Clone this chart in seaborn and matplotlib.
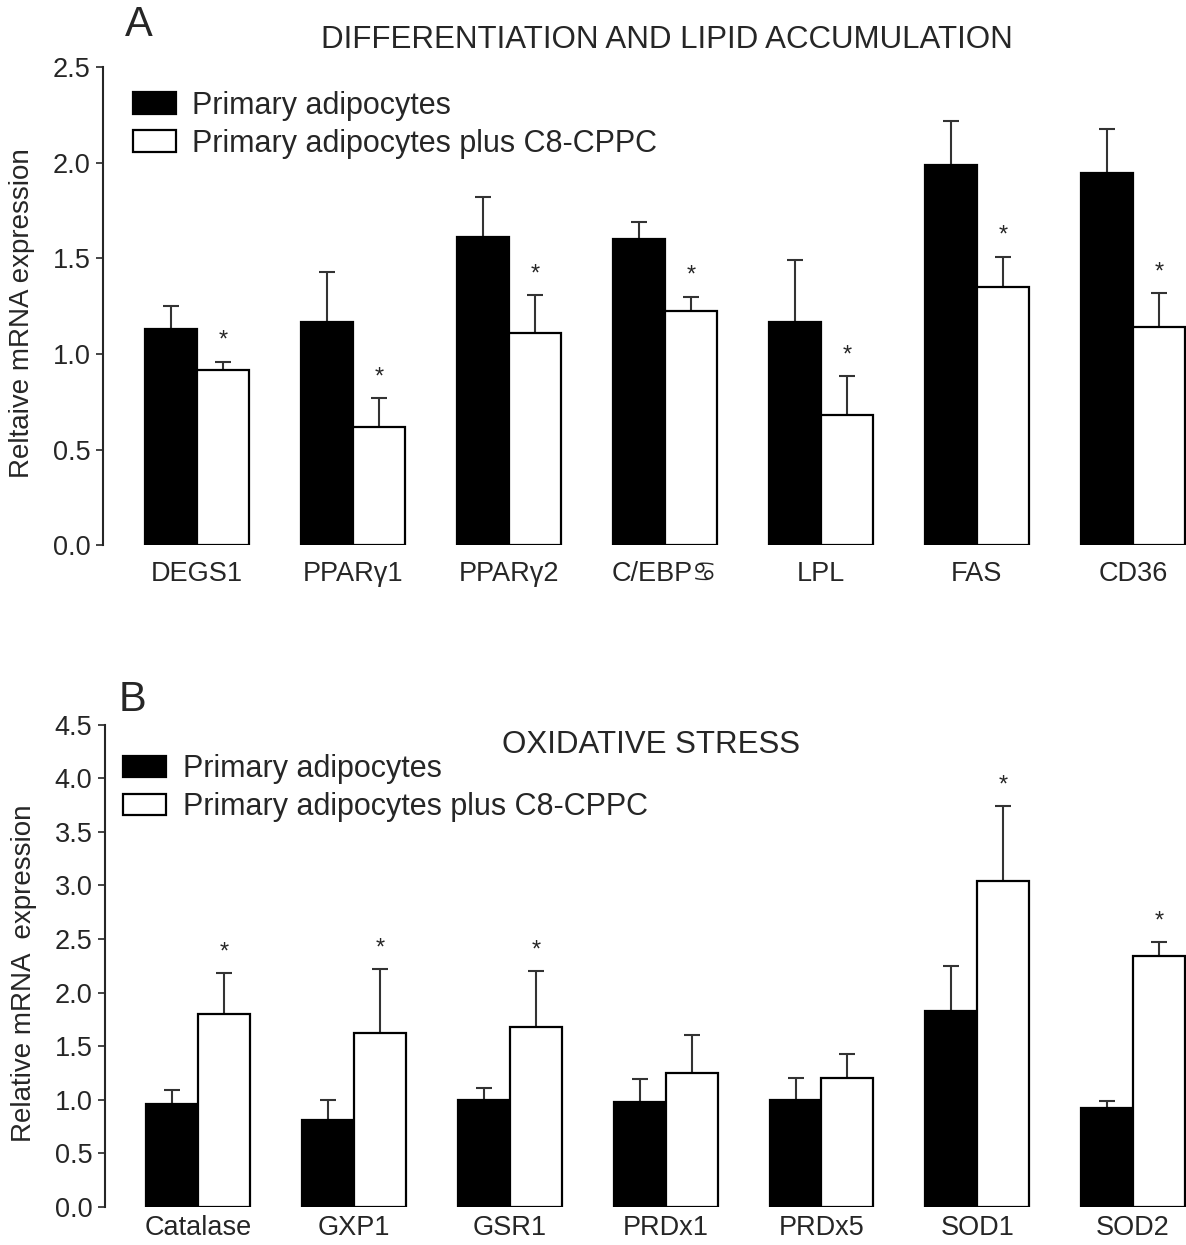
import seaborn as sns
import matplotlib.pyplot as plt
import pandas as pd
import numpy as np

sns.set_style("ticks")
plt.rcParams['font.family'] = ['Liberation Sans', 'DejaVu Sans']

groups = ["Primary adipocytes", "Primary adipocytes plus C8-CPPC"]

# panel A - differentiation and lipid accumulation
genes_a = ["DEGS1", "PPARγ1", "PPARγ2", "C/EBP♋", "LPL", "FAS", "CD36"]
ctrl_a = [1.13, 1.17, 1.61, 1.60, 1.17, 1.99, 1.945]
ctrl_a_sem = [0.12, 0.26, 0.21, 0.09, 0.32, 0.23, 0.23]
c8_a = [0.915, 0.62, 1.11, 1.224, 0.68, 1.35, 1.14]
c8_a_sem = [0.045, 0.15, 0.20, 0.076, 0.205, 0.16, 0.18]
star_a = [True, True, True, True, True, True, True]

# panel B - oxidative stress
genes_b = ["Catalase", "GXP1", "GSR1", "PRDx1", "PRDx5", "SOD1", "SOD2"]
ctrl_b = [0.96, 0.81, 1.00, 0.98, 1.00, 1.83, 0.92]
ctrl_b_sem = [0.13, 0.19, 0.11, 0.21, 0.20, 0.42, 0.07]
c8_b = [1.80, 1.62, 1.68, 1.25, 1.20, 3.04, 2.34]
c8_b_sem = [0.38, 0.60, 0.52, 0.35, 0.23, 0.70, 0.13]
star_b = [True, True, True, False, False, True, True]


def panel(ax, genes, ctrl, ctrl_sem, c8, c8_sem, stars, ymax, ylabel, xpad):
    df = pd.DataFrame({
        "gene": genes * 2,
        "group": [groups[0]] * len(genes) + [groups[1]] * len(genes),
        "value": ctrl + c8,
    })
    sns.barplot(data=df, x="gene", y="value", hue="group",
                palette={groups[0]: "black", groups[1]: "white"},
                edgecolor="black", linewidth=1.6, width=0.667,
                errorbar=None, legend=False, ax=ax, zorder=3)
    bars = list(ax.containers)
    sems = [ctrl_sem, c8_sem]
    for k, cont in enumerate(bars):
        xs = np.array([p.get_x() + p.get_width() / 2 for p in cont.patches])
        hs = np.array([p.get_height() for p in cont.patches])
        up = np.array(sems[k])
        _, caps, _ = ax.errorbar(xs, hs, yerr=[np.zeros_like(up), up], fmt="none",
                                 ecolor="#333333", elinewidth=1.5, capsize=6,
                                 capthick=1.5, zorder=2)
        for cl in caps:
            if np.allclose(cl.get_ydata(), hs):
                cl.set_visible(False)
        if k == 1:
            for x, h, e, s in zip(xs, hs, up, stars):
                if s:
                    ax.annotate("*", (x, h + e), xytext=(0, 7), textcoords="offset points",
                                ha="center", va="bottom", fontsize=17)
    ax.set_xlim(-0.6, 6.34)
    ax.set_ylim(0, ymax)
    ticks = np.arange(0, ymax + 0.01, 0.5)
    ax.set_yticks(ticks)
    ax.set_yticklabels([f"{v:.1f}" for v in ticks])
    ax.tick_params(axis="y", labelsize=19.5, length=5, width=1.2, pad=4)
    ax.tick_params(axis="x", labelsize=19.5, length=0, pad=xpad)
    for lab in ax.get_xticklabels():
        lab.set_x(lab.get_position()[0])
    ax.set_xlabel("")
    ax.set_ylabel(ylabel, fontsize=20)
    ax.yaxis.set_label_coords(-0.063, 0.485)
    for sp in ["top", "right", "bottom"]:
        ax.spines[sp].set_visible(False)
    ax.spines["left"].set_linewidth(1.5)
    return bars


fig = plt.figure(figsize=(11.86, 12.45), dpi=100)

ax1 = fig.add_axes([0.087, 0.562, 0.913, 0.384])
bars1 = panel(ax1, genes_a, ctrl_a, ctrl_a_sem, c8_a, c8_a_sem, star_a, 2.5,
              "Reltaive mRNA expression", 11)
ax1.legend(bars1, groups, loc="upper left", bbox_to_anchor=(0.112, 0.927),
           bbox_transform=fig.transFigure, frameon=False, fontsize=22,
           handlelength=1.4, handleheight=0.7, handletextpad=0.55,
           labelspacing=0.25, borderpad=0, borderaxespad=0)
fig.text(0.105, 0.980, "A", fontsize=30, ha="left", va="center")
fig.text(0.562, 0.968, "DIFFERENTIATION AND LIPID ACCUMULATION", fontsize=22.5,
         ha="center", va="center")

ax2 = fig.add_axes([0.0885, 0.0305, 0.9115, 0.3875])
bars2 = panel(ax2, genes_b, ctrl_b, ctrl_b_sem, c8_b, c8_b_sem, star_b, 4.5,
              "Relative mRNA  expression", 6)
ax2.legend(bars2, groups, loc="upper left", bbox_to_anchor=(0.104, 0.394),
           bbox_transform=fig.transFigure, frameon=False, fontsize=22,
           handlelength=1.4, handleheight=0.7, handletextpad=0.55,
           labelspacing=0.25, borderpad=0, borderaxespad=0)
fig.text(0.1, 0.438, "B", fontsize=30, ha="left", va="center")
fig.text(0.549, 0.402, "OXIDATIVE STRESS", fontsize=22.5, ha="center", va="center")

plt.savefig("out.png", dpi=100)
plt.close(fig)
